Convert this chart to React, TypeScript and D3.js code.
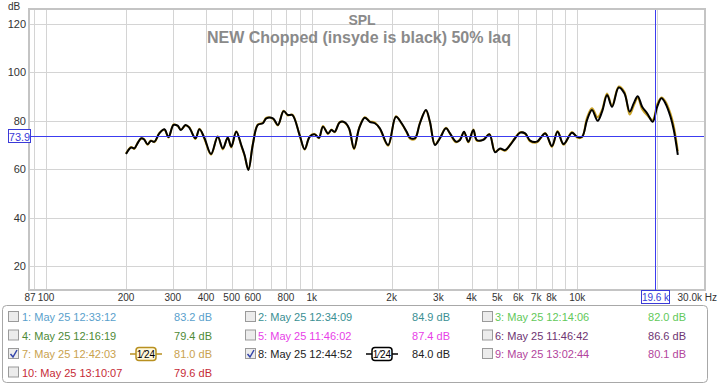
import { useEffect, useRef } from 'react';
import * as d3 from 'd3';

// measurement 8 (black) and 7 (gold), both at 1/24 oct smoothing
const freqs = [200, 209, 215, 221, 228, 234, 241, 248, 256, 267, 279, 289, 302, 313, 322, 335, 346, 365, 378, 395, 418, 443, 463, 483, 498, 520, 543, 559, 578, 600, 627, 655, 675, 715, 746, 784, 814, 846, 901, 941, 983, 1026, 1065, 1103, 1152, 1187, 1221, 1276, 1332, 1383, 1444, 1509, 1585, 1655, 1729, 1806, 1941, 2075, 2181, 2278, 2343, 2448, 2556, 2693, 2788, 2912, 3041, 3204, 3318, 3495, 3619, 3747, 3889, 4062, 4183, 4430, 4669, 4904, 5122, 5350, 5588, 5834, 6095, 6366, 6646, 7046, 7573, 8027, 8428, 8879, 9550, 9975, 10420, 10880, 11360, 11930, 12400, 12950, 13520, 14320, 15040, 15750, 16310, 16890, 17550, 18330, 19240, 19990, 20750, 21480, 22440, 23090, 23910];
const blackDb = [66.3, 69.0, 68.6, 70.7, 72.8, 72.3, 70.3, 71.7, 71.4, 74.8, 76.5, 73.3, 78.3, 78.0, 76.2, 78.3, 77.2, 72.8, 76.5, 72.8, 66.3, 73.4, 68.6, 73.0, 69.3, 75.5, 70.0, 65.9, 59.7, 70.0, 78.3, 79.0, 81.0, 81.0, 78.3, 84.0, 82.4, 82.4, 74.1, 68.3, 73.4, 74.4, 73.0, 77.6, 74.8, 76.2, 75.5, 79.4, 79.4, 76.9, 68.6, 76.9, 81.3, 79.6, 79.0, 76.9, 70.0, 81.7, 79.0, 75.5, 73.0, 72.8, 79.0, 84.5, 79.6, 70.0, 72.8, 76.9, 74.8, 71.4, 72.1, 75.5, 71.4, 76.2, 72.1, 72.1, 74.4, 67.0, 68.6, 67.9, 70.0, 72.8, 75.1, 74.8, 71.8, 71.4, 74.8, 69.6, 75.5, 70.4, 75.1, 73.4, 73.4, 80.3, 84.5, 80.0, 83.8, 90.7, 85.8, 93.8, 91.4, 83.8, 87.2, 90.2, 85.8, 83.1, 79.6, 85.8, 89.3, 87.2, 81.7, 76.2, 65.9];
const goldDb = [66.5, 69.2, 68.4, 70.9, 72.6, 72.5, 70.1, 71.9, 71.2, 75.0, 76.3, 73.1, 78.5, 77.8, 76.4, 78.1, 77.4, 72.5, 76.7, 72.4, 66.0, 73.6, 68.2, 73.2, 69.0, 75.7, 69.7, 65.6, 59.9, 70.2, 78.5, 79.2, 81.3, 80.8, 78.1, 84.2, 82.2, 82.6, 74.0, 68.1, 73.6, 74.6, 72.8, 77.9, 74.6, 76.4, 75.3, 79.6, 79.2, 76.7, 68.3, 77.1, 81.5, 79.8, 79.3, 76.7, 69.7, 81.9, 78.8, 75.3, 72.6, 72.4, 79.2, 84.3, 79.4, 70.3, 73.0, 77.1, 74.6, 71.1, 72.4, 75.3, 71.1, 76.4, 71.8, 72.3, 74.6, 67.3, 68.4, 67.6, 70.2, 73.0, 75.3, 74.6, 71.5, 71.1, 75.0, 69.2, 75.8, 70.1, 75.4, 73.1, 73.2, 81.3, 85.2, 81.5, 84.6, 91.3, 86.3, 94.2, 92.0, 82.6, 86.2, 89.4, 84.8, 82.3, 80.4, 86.8, 89.6, 88.0, 83.0, 77.8, 67.5];

const yTicks = [20, 40, 60, 80, 100, 120];
const xGrid = [90, 100, 200, 300, 400, 500, 600, 700, 800, 900, 1000, 2000, 3000, 4000, 5000, 6000, 7000, 8000, 9000, 10000, 20000];
const xLabels = [[87, '87'], [100, '100'], [200, '200'], [300, '300'], [400, '400'], [500, '500'], [600, '600'], [800, '800'], [1000, '1k'], [2000, '2k'], [3000, '3k'], [4000, '4k'], [5000, '5k'], [6000, '6k'], [7000, '7k'], [8000, '8k'], [10000, '10k']] as [number, string][];

const legendNames = ['1: May 25 12:33:12', '2: May 25 12:34:09', '3: May 25 12:14:06', '4: May 25 12:16:19', '5: May 25 11:46:02', '6: May 25 11:46:42', '7: May 25 12:42:03', '8: May 25 12:44:52', '9: May 25 13:02:44', '10: May 25 13:10:07'];
const legendValues = ['83.2 dB', '84.9 dB', '82.0 dB', '79.4 dB', '87.4 dB', '86.6 dB', '81.0 dB', '84.0 dB', '80.1 dB', '79.6 dB'];
const legendColors = ['#5a9fcc', '#3a8f93', '#62c95a', '#4e8a36', '#e83ee8', '#6e3472', '#c9a24e', '#222222', '#b2449c', '#c62a36'];
const legendChecked = [false, false, false, false, false, false, true, true, false, false];

const cursorDb = 73.9;
const cursorHz = 19600;

const W = 719, H = 384;
const FONT = '"Liberation Sans", Arial, sans-serif';

export default function App() {
  const ref = useRef<SVGSVGElement>(null);

  useEffect(() => {
    if (!ref.current) return;
    const svg = d3.select(ref.current);
    svg.selectAll('*').remove();

    const left = 30, right = 704, top = 10, bottom = 289;
    const x = d3.scaleLog().domain([87, 30000]).range([left, right]);
    const y = d3.scaleLinear().domain([10.5, 125.8]).range([bottom, top]);

    svg.append('rect').attr('width', W).attr('height', H).attr('fill', '#fff');

    // grid
    const grid = svg.append('g').attr('stroke', '#d4d4d4').attr('stroke-width', 1);
    xGrid.forEach(f => {
      grid.append('line').attr('x1', Math.round(x(f)) + 0.5).attr('x2', Math.round(x(f)) + 0.5)
        .attr('y1', top).attr('y2', bottom);
    });
    yTicks.forEach(v => {
      grid.append('line').attr('x1', left).attr('x2', right)
        .attr('y1', Math.round(y(v)) + 0.5).attr('y2', Math.round(y(v)) + 0.5);
    });

    // frame
    svg.append('rect').attr('x', left - 1).attr('y', top - 1)
      .attr('width', right - left + 2).attr('height', bottom - top + 2)
      .attr('fill', 'none').attr('stroke', '#c4c4c4').attr('stroke-width', 2);

    // titles
    svg.append('text').attr('x', 362).attr('y', 25).attr('text-anchor', 'middle')
      .attr('font-family', FONT).attr('font-size', 14).attr('font-weight', 'bold')
      .attr('fill', '#8a8a8a').text('SPL');
    svg.append('text').attr('x', 359).attr('y', 43).attr('text-anchor', 'middle')
      .attr('font-family', FONT).attr('font-size', 16).attr('font-weight', 'bold')
      .attr('fill', '#8a8a8a').text('NEW Chopped (insyde is black) 50% laq');

    // y labels
    const yl = svg.append('g').attr('font-family', FONT).attr('font-size', 11).attr('fill', '#333');
    yTicks.forEach(v => {
      yl.append('text').attr('x', 26).attr('y', y(v) + 4).attr('text-anchor', 'end').text(v);
    });
    yl.append('text').attr('x', 14).attr('y', 10).attr('text-anchor', 'middle')
      .attr('font-size', 10).text('dB');

    // x labels
    const xl = svg.append('g').attr('font-family', FONT).attr('font-size', 10).attr('fill', '#333');
    xLabels.forEach(([f, t]) => {
      xl.append('text').attr('x', x(f)).attr('y', 301).attr('text-anchor', 'middle').text(t);
    });
    xl.append('text').attr('x', 717).attr('y', 301).attr('text-anchor', 'end').text('30.0k Hz');

    // curves
    const pts = (vals: number[]) => freqs.map((f, i) => [f, vals[i]] as [number, number]);
    const line = d3.line<[number, number]>().x(d => x(d[0])).y(d => y(d[1])).curve(d3.curveCatmullRom.alpha(0.5));
    svg.append('path').attr('d', line(pts(goldDb))).attr('fill', 'none')
      .attr('stroke', '#c9a227').attr('stroke-width', 2).attr('stroke-linejoin', 'round');
    svg.append('path').attr('d', line(pts(blackDb))).attr('fill', 'none')
      .attr('stroke', '#000').attr('stroke-width', 2).attr('stroke-linejoin', 'round');

    // cursors
    const cy = Math.round(y(cursorDb)) + 0.5;
    const cx = Math.round(x(cursorHz)) + 0.5;
    svg.append('line').attr('x1', left).attr('x2', right).attr('y1', cy).attr('y2', cy)
      .attr('stroke', '#3c3cf0').attr('stroke-width', 1);
    svg.append('line').attr('x1', cx).attr('x2', cx).attr('y1', top).attr('y2', 291)
      .attr('stroke', '#3c3cf0').attr('stroke-width', 1);
    svg.append('rect').attr('x', 8.5).attr('y', cy - 7).attr('width', 22).attr('height', 13)
      .attr('fill', '#fff').attr('stroke', '#3a3ad8');
    svg.append('text').attr('x', 19.5).attr('y', cy + 4).attr('text-anchor', 'middle')
      .attr('font-family', FONT).attr('font-size', 11).attr('fill', '#3a3ad8').text(cursorDb.toFixed(1));
    svg.append('rect').attr('x', cx - 14).attr('y', 290.5).attr('width', 28).attr('height', 13)
      .attr('fill', '#fff').attr('stroke', '#3a3ad8');
    svg.append('text').attr('x', cx).attr('y', 301).attr('text-anchor', 'middle')
      .attr('font-family', FONT).attr('font-size', 10).attr('fill', '#3a3ad8').text((cursorHz / 1000).toFixed(1) + ' k');

    // legend
    const lg = svg.append('g').attr('font-family', FONT).attr('font-size', 11);
    lg.append('rect').attr('x', 2.5).attr('y', 305.5).attr('width', 705).attr('height', 77).attr('rx', 4)
      .attr('fill', '#fff').attr('stroke', '#a8a8a8');
    const boxX = [8, 245, 482], textX = [22, 258, 495], valX = [212, 450, 686];
    const rowY = [317, 335.5, 354, 372.5];
    legendNames.forEach((name, i) => {
      const col = i % 3, row = Math.floor(i / 3);
      const ry = rowY[row];
      lg.append('rect').attr('x', boxX[col] + 0.5).attr('y', ry - 5.5).attr('width', 10).attr('height', 10)
        .attr('fill', '#ececec').attr('stroke', '#9a9a9a');
      if (legendChecked[i]) {
        lg.append('path').attr('d', `M${boxX[col] + 2.5},${ry} L${boxX[col] + 5},${ry + 3} L${boxX[col] + 9},${ry - 4}`)
          .attr('fill', 'none').attr('stroke', '#3344aa').attr('stroke-width', 1.5);
      }
      lg.append('text').attr('x', textX[col]).attr('y', ry + 4).attr('fill', legendColors[i]).text(name);
      lg.append('text').attr('x', valX[col]).attr('y', ry + 4).attr('text-anchor', 'end')
        .attr('fill', legendColors[i]).text(legendValues[i]);
      if (legendChecked[i]) {
        const bx = col === 0 ? 136 : 372;
        const stroke = legendColors[i] === '#222222' ? '#000' : '#b89020';
        lg.append('line').attr('x1', bx - 6).attr('x2', bx + 26).attr('y1', ry).attr('y2', ry)
          .attr('stroke', stroke).attr('stroke-width', 1.5);
        lg.append('rect').attr('x', bx).attr('y', ry - 6.5).attr('width', 20).attr('height', 13).attr('rx', 3)
          .attr('fill', col === 0 ? '#fff8dc' : '#fff').attr('stroke', stroke).attr('stroke-width', 1.5);
        lg.append('text').attr('x', bx + 10).attr('y', ry + 4).attr('text-anchor', 'middle')
          .attr('font-size', 10).attr('fill', '#000').text('1⁄24');
      }
    });
  }, []);

  return (
    <svg ref={ref} width={W} height={H}
      style={{ position: 'absolute', left: 0, top: 0, display: 'block' }} />
  );
}
